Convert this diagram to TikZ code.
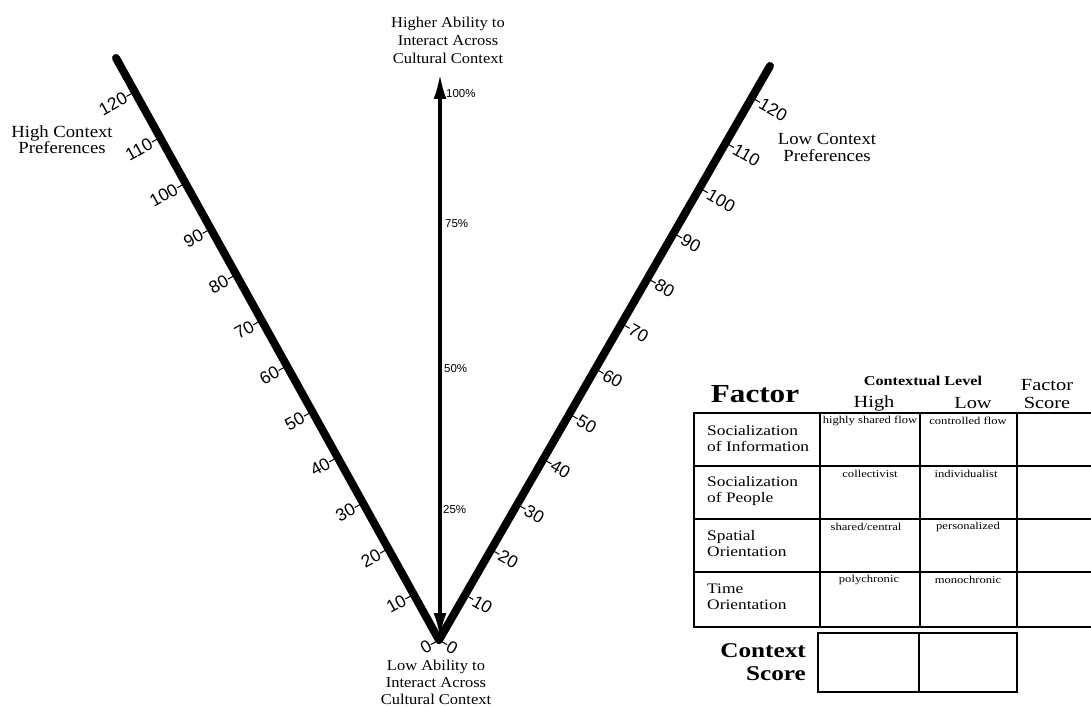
\documentclass[tikz,border=0pt]{standalone}
\usepackage{fontspec}
\setmainfont{Liberation Serif}
\newfontfamily\labelserif[FakeStretch=1.1]{Liberation Serif}
\newfontfamily\tableserif[FakeStretch=1.2]{Liberation Serif}
\newfontfamily\scalesans{Liberation Sans}
\usetikzlibrary{arrows.meta,calc}

\begin{document}
\begin{tikzpicture}[x=1pt,y=-1pt,
  vline/.style={line width=8pt,line cap=round,line join=round},
  tickmark/.style={line width=1pt},
  numlab/.style={font=\scalesans\fontsize{17.5}{17.5}\selectfont,inner sep=0.5pt},
  pctlab/.style={font=\scalesans\fontsize{11.5}{11.5}\selectfont,anchor=west,inner sep=1pt},
  caption/.style={align=center,inner sep=0pt},
  rowlab/.style={anchor=west,align=left,inner sep=0pt,font=\tableserif\fontsize{14.5}{16}\selectfont},
  celltxt/.style={inner sep=0pt,font=\tableserif\fontsize{10.5}{10.5}\selectfont},
  thickrule/.style={line width=2.5pt},
  thinrule/.style={line width=1.5pt},
]
\useasboundingbox (0,0) rectangle (1091,706);

% ---- the V scale ----
\coordinate (V) at (439,640);
\coordinate (Ltop) at (116,58);
\coordinate (Rtop) at (770,66);

\foreach \v in {0,10,...,120}{
  \coordinate (L\v) at ($(V)!\v/127.4!(Ltop)$);
  \draw[tickmark] (L\v) -- ++(-8.3,4.6) coordinate (Le\v);
  \node[numlab,anchor=east,rotate=29] (Ln\v) at (Le\v) {\v};
  \coordinate (R\v) at ($(V)!\v/127!(Rtop)$);
  \draw[tickmark] (R\v) -- ++(8.2,4.7) coordinate (Re\v);
  \node[numlab,anchor=west,rotate=-30] (Rn\v) at (Re\v) {\v};
}
\draw[vline] (Ltop) -- (V) -- (Rtop);

% ---- central ability axis ----
\coordinate (Abot) at (440,638);
\coordinate (Atop) at (440,74);
\draw[line width=3.5pt,{Latex[length=25pt,width=13pt]}-{Latex[length=25pt,width=13pt]}] (Abot) -- (Atop);
\node[pctlab] (p100) at (445,94) {100\%};
\node[pctlab] (p75) at (444,224) {75\%};
\node[pctlab] (p50) at (443,369) {50\%};
\node[pctlab] (p25) at (442,510) {25\%};

% ---- captions ----
\node[caption,font=\labelserif\fontsize{15}{18}\selectfont] (hi) at (448,40)
  {Higher Ability to\\Interact Across\\Cultural Context};
\node[caption,font=\labelserif\fontsize{15}{17}\selectfont] (lo) at (436,682)
  {Low Ability to\\Interact Across\\Cultural Context};
\node[caption,font=\labelserif\fontsize{17}{16}\selectfont] (hc) at (62,140)
  {High Context\\Preferences};
\node[caption,font=\labelserif\fontsize{17}{17}\selectfont] (lc) at (827,147)
  {Low Context\\Preferences};

% ---- factor table ----
\node[font=\tableserif\bfseries\fontsize{26}{26}\selectfont] (fh) at (755,394) {Factor};
\node[font=\tableserif\bfseries\fontsize{13.5}{13.5}\selectfont] (cl) at (923,381) {Contextual Level};
\node[font=\tableserif\fontsize{17}{17}\selectfont] (hh) at (874,403) {High};
\node[font=\tableserif\fontsize{17}{17}\selectfont] (lh) at (973,403) {Low};
\node[align=center,font=\tableserif\fontsize{17}{18}\selectfont] (fs) at (1047,394) {Factor\\Score};

\draw[thickrule] (694,413) -- (1091,413);
\foreach \y in {466,519,572}{\draw[thinrule] (694,\y) -- (1091,\y);}
\draw[thickrule] (694,627) -- (1091,627);
\draw[line width=2pt] (694,412) -- (694,628);
\foreach \x in {820,920,1017}{\draw[thinrule] (\x,413) -- (\x,627);}

\node[rowlab] (r1) at (707,439) {Socialization\\of Information};
\node[rowlab] (r2) at (707,491) {Socialization\\of People};
\node[rowlab] (r3) at (707,544) {Spatial\\Orientation};
\node[rowlab] (r4) at (707,597) {Time\\Orientation};

\node[celltxt] (c1h) at (870,421) {highly shared flow};
\node[celltxt] (c1l) at (968,421) {controlled flow};
\node[celltxt] (c2h) at (870,474) {collectivist};
\node[celltxt] (c2l) at (966,474) {individualist};
\node[celltxt] (c3h) at (866,527) {shared/central};
\node[celltxt] (c3l) at (968,527) {personalized};
\node[celltxt] (c4h) at (869,580) {polychronic};
\node[celltxt] (c4l) at (968,580) {monochronic};

% ---- context score box ----
\node[anchor=east,align=right,inner sep=0pt,font=\tableserif\bfseries\fontsize{21}{23}\selectfont] (cs) at (806,662) {Context\\Score};
\draw[thickrule] (818,633) rectangle (1017,692);
\draw[thinrule] (919,633) -- (919,692);
\end{tikzpicture}
\end{document}
